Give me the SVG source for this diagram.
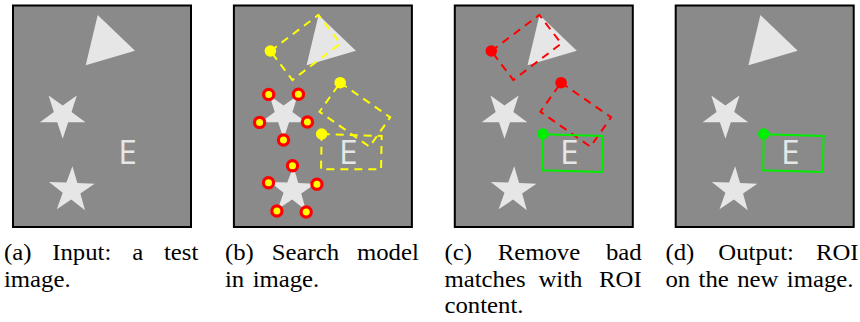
<svg xmlns="http://www.w3.org/2000/svg" xmlns:xlink="http://www.w3.org/1999/xlink" width="860" height="322" viewBox="0 0 860 322">
<style>
.shape{fill:#e6e6e6}
.frame{fill:#8a8a8a;stroke:#000;stroke-width:2}
.ylw{fill:none;stroke:#ffff00;stroke-width:2;stroke-dasharray:8 6}
.red{fill:none;stroke:#ff0000;stroke-width:2;stroke-dasharray:8 6}
.grn{fill:none;stroke:#00ee00;stroke-width:2}
.ydot{fill:#ffff00}
.rdot{fill:#ff0000}
.gdot{fill:#00ee00}
.tip{fill:#ffff00;stroke:#ff0000;stroke-width:3.2}
.cap{font-family:"Liberation Serif","Times New Roman",serif;font-size:22.5px;fill:#000;word-spacing:2px}
.lbl{font-family:"Open Sans","DejaVu Sans",sans-serif;font-size:33.5px;fill:#e6e6e6}
</style>
<defs>
<g id="scene">
<rect class="frame" x="13" y="5.5" width="178" height="221.5"/>
<polygon class="shape" points="97.7,15 135,50.7 85.7,65.3"/>
<polygon class="shape" points="62.7,138.8 57.23,122.32 39.88,122.22 53.86,111.93 48.59,95.38 62.7,105.5 76.81,95.38 71.54,111.93 85.52,122.22 68.17,122.32"/>
<polygon class="shape" transform="rotate(2 71.6 190.3)" points="71.6,166.3 77.07,182.78 94.42,182.88 80.44,193.17 85.71,209.72 71.6,199.6 57.49,209.72 62.76,193.17 48.78,182.88 66.13,182.78"/>
<text class="lbl" x="118.2" y="164">E</text>
</g>
</defs>

<g id="panel-a">
<use xlink:href="#scene"/>
</g>

<g id="panel-b" transform="translate(220.9,0)">
<use xlink:href="#scene"/>
<g id="b-matches">
<polygon class="ylw" points="49.5,51 97.5,15 119.5,43.5 71.5,80"/>
<polygon class="ylw" points="119.3,82.7 169.3,117.3 148.6,146.7 98.6,111.7"/>
<polygon class="ylw" points="100.8,134 160.8,136 160.1,169.3 100.1,169.3"/>
<circle class="ydot" cx="49.5" cy="51" r="5.8"/>
<circle class="ydot" cx="119.3" cy="82.7" r="5.8"/>
<circle class="ydot" cx="100.8" cy="134" r="5.8"/>
</g>
<g id="b-tips">
<circle class="tip" cx="62.6" cy="140" r="5.1"/>
<circle class="tip" cx="38.7" cy="122.4" r="5.1"/>
<circle class="tip" cx="47.8" cy="94.4" r="5.1"/>
<circle class="tip" cx="77.5" cy="94.3" r="5.1"/>
<circle class="tip" cx="86.5" cy="122" r="5.1"/>
<circle class="tip" cx="71.6" cy="165.7" r="5.1"/>
<circle class="tip" cx="47.6" cy="182.7" r="5.1"/>
<circle class="tip" cx="96" cy="184.3" r="5.1"/>
<circle class="tip" cx="56" cy="211" r="5.1"/>
<circle class="tip" cx="85.3" cy="212" r="5.1"/>
</g>
</g>

<g id="panel-c" transform="translate(441.8,0)">
<use xlink:href="#scene"/>
<g id="c-bad">
<polygon class="red" points="49.5,51 97.5,15 119.5,43.5 71.5,80"/>
<polygon class="red" points="119.3,82.7 169.3,117.3 148.6,146.7 98.6,111.7"/>
<circle class="rdot" cx="49.5" cy="51" r="5.8"/>
<circle class="rdot" cx="119.3" cy="82.7" r="5.8"/>
</g>
<g id="c-roi">
<polygon class="grn" points="101,134.3 161,136 160,172 100.5,170.3"/>
<circle class="gdot" cx="101" cy="134" r="5.7"/>
</g>
</g>

<g id="panel-d" transform="translate(662.7,0)">
<use xlink:href="#scene"/>
<g id="d-roi">
<polygon class="grn" points="101,134.3 161,136 160,172 100.5,170.3"/>
<circle class="gdot" cx="101" cy="134" r="5.7"/>
</g>
</g>

<g id="captions" transform="scale(1.1,1)">
<text class="cap" y="260"><tspan x="3.64">(a)</tspan><tspan x="47.52">Input:</tspan><tspan x="120.13">a</tspan><tspan x="180.27" text-anchor="end">test</tspan></text>
<text class="cap" x="3.64" y="286.7">image.</text>
<text class="cap" y="260"><tspan x="204.55">(b)</tspan><tspan x="247.05">Search</tspan><tspan x="380.73" text-anchor="end">model</tspan></text>
<text class="cap" x="204.55" y="286.7">in image.</text>
<text class="cap" y="260"><tspan x="404.09">(c)</tspan><tspan x="452.5">Remove</tspan><tspan x="583.36" text-anchor="end">bad</tspan></text>
<text class="cap" y="286.7"><tspan x="404.09">matches</tspan><tspan x="489.5">with</tspan><tspan x="583.36" text-anchor="end">ROI</tspan></text>
<text class="cap" x="404.09" y="313.3">content.</text>
<text class="cap" y="260"><tspan x="605">(d)</tspan><tspan x="653">Output:</tspan><tspan x="780.5" text-anchor="end">ROI</tspan></text>
<text class="cap" x="605" y="286.7">on the new image.</text>
</g>
</svg>
